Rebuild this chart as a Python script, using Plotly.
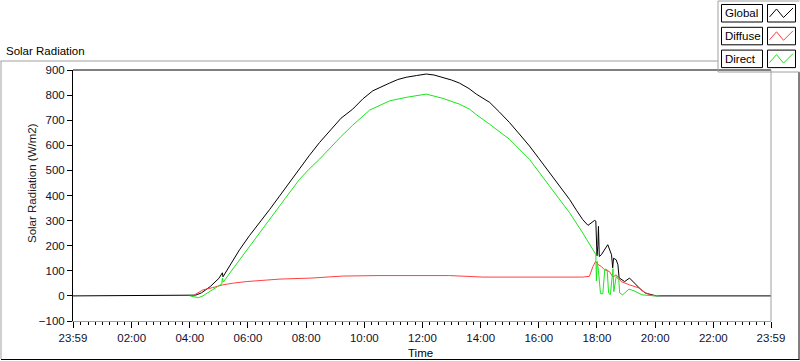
import plotly.graph_objects as go

# ---------------- data (hours since 00:00; 23:59 start = -1/60) ----------------
global_t = [-0.0167, 4.0, 4.2, 4.4, 4.7, 5.0, 5.12, 5.14, 5.4, 5.71, 6.05, 6.40, 6.75, 7.08,
            7.42, 7.77, 8.10, 8.46, 8.80, 9.20, 9.60, 9.95, 10.29, 10.60, 10.87, 11.15, 11.44,
            11.80, 12.13, 12.40, 12.70, 13.00, 13.27, 13.60, 13.85, 14.31, 14.65, 14.99, 15.33,
            15.68, 16.00, 16.37, 16.70, 17.06, 17.30, 17.51, 17.69, 17.80, 17.92, 17.96, 17.98,
            18.00, 18.03, 18.05, 18.08, 18.15, 18.37, 18.50, 18.54, 18.57, 18.66, 18.72, 18.76,
            18.95, 19.12, 19.29, 19.52, 19.67, 20.04, 23.9833]
global_v = [0, 0, 3, 12, 37, 70, 92, 76, 125, 184, 240, 291, 345, 397,
            452, 504, 558, 611, 657, 708, 744, 785, 817, 835, 848, 862, 871,
            878, 884, 880, 871, 860, 848, 826, 804, 771, 732, 691, 645,
            597, 548, 491, 440, 384, 340, 304, 281, 292, 301, 298, 210,
            160, 200, 277, 157, 164, 204, 164, 112, 150, 144, 124, 72,
            57, 71, 51, 24, 11, 0, 0]

diffuse_t = [4.10, 4.30, 4.45, 4.79, 5.13, 5.50, 5.94, 6.63, 7.10, 8.17, 8.69, 9.26, 10.47,
             12.93, 14.08, 17.51, 17.74, 17.86, 17.95, 18.05, 18.15, 18.26, 18.43, 18.55,
             18.66, 18.83, 19.12, 19.46, 19.63, 19.81, 20.00]
diffuse_v = [0, 12, 24, 33, 44, 51, 57, 63, 67, 71, 75, 79, 81,
             81, 75, 75, 78, 117, 137, 124, 117, 104, 97, 75,
             84, 57, 44, 31, 15, 4, 0]

direct_t = [4.00, 4.15, 4.30, 4.45, 4.79, 5.10, 5.12, 5.15, 5.40, 5.71, 6.05, 6.40, 6.75, 7.08,
            7.42, 7.77, 8.10, 8.46, 8.80, 9.20, 9.60, 10.18, 10.87, 11.44, 12.13, 12.70, 13.27,
            13.62, 13.85, 14.31, 14.99, 15.68, 16.37, 17.06, 17.51, 17.75, 17.92, 17.96, 17.98,
            18.01, 18.05, 18.12, 18.20, 18.27, 18.35, 18.40, 18.46, 18.55, 18.58, 18.66, 18.75,
            18.78, 18.88, 19.10, 19.28, 19.55, 20.00, 20.15]
direct_v = [0, -3, -7, 0, 24, 48, 71, 55, 95, 144, 198, 251, 305, 357,
            410, 464, 505, 545, 587, 635, 680, 740, 777, 791, 804, 787, 764,
            744, 722, 684, 624, 544, 437, 331, 251, 205, 177, 165, 60,
            137, 100, 10, 8, 107, 104, 11, 5, 108, 17, 77, 64,
            12, 4, 27, 20, 4, 0, 0]

tick_vals = [-0.0167, 2, 4, 6, 8, 10, 12, 14, 16, 18, 20, 22, 23.9833]
tick_text = ["23:59", "02:00", "04:00", "06:00", "08:00", "10:00", "12:00",
             "14:00", "16:00", "18:00", "20:00", "22:00", "23:59"]

series_names = ["Global", "Diffuse", "Direct"]
series_colors = ["#000000", "#FF4040", "#19E619"]

# ---------------- layout geometry (pixels) ----------------
W, H = 800, 361
L, R, T, B = 73, 771, 70, 321
FONT = "Liberation Sans"


def px(x):
    return (x - L) / (R - L)


def py(y):
    return (B - y) / (B - T)


fig = go.Figure()
fig.add_trace(go.Scatter(x=global_t, y=global_v, mode="lines", name=series_names[0],
                         line=dict(color=series_colors[0], width=1)))
fig.add_trace(go.Scatter(x=diffuse_t, y=diffuse_v, mode="lines", name=series_names[1],
                         line=dict(color=series_colors[1], width=1)))
fig.add_trace(go.Scatter(x=direct_t, y=direct_v, mode="lines", name=series_names[2],
                         line=dict(color=series_colors[2], width=1)))

shapes = []
annotations = []

# plot-area frame: top black, right grey
shapes.append(dict(type="line", xref="paper", yref="paper", x0=0, x1=1, y0=1, y1=1,
                   line=dict(color="black", width=1)))
shapes.append(dict(type="line", xref="paper", yref="paper", x0=1, x1=1, y0=0, y1=1,
                   line=dict(color="#A0A0A0", width=1)))
# outer panel frame
shapes.append(dict(type="line", xref="paper", yref="paper", x0=px(0.5), x1=px(718), y0=py(61), y1=py(61),
                   line=dict(color="#A0A0A0", width=1)))
shapes.append(dict(type="line", xref="paper", yref="paper", x0=px(1), x1=px(1), y0=py(61), y1=py(359),
                   line=dict(color="#A0A0A0", width=1)))
shapes.append(dict(type="line", xref="paper", yref="paper", x0=px(1), x1=px(799.5), y0=py(359.5), y1=py(359.5),
                   line=dict(color="black", width=1)))
shapes.append(dict(type="line", xref="paper", yref="paper", x0=px(799), x1=px(799), y0=py(72), y1=py(359.5),
                   line=dict(color="black", width=1)))
# legend panel
shapes.append(dict(type="line", xref="paper", yref="paper", x0=px(718), x1=px(718), y0=py(1), y1=py(72),
                   line=dict(color="#A0A0A0", width=1)))
shapes.append(dict(type="line", xref="paper", yref="paper", x0=px(718), x1=px(799.5), y0=py(72), y1=py(72),
                   line=dict(color="#A0A0A0", width=1)))
shapes.append(dict(type="line", xref="paper", yref="paper", x0=px(718), x1=px(799.5), y0=py(1), y1=py(1),
                   line=dict(color="#A0A0A0", width=1)))

for i, (name, col) in enumerate(zip(series_names, series_colors)):
    top = 4.5 + i * 22.8
    bot = top + 17.5
    shapes.append(dict(type="rect", xref="paper", yref="paper",
                       x0=px(721.5), x1=px(762.5), y0=py(bot), y1=py(top),
                       line=dict(color="black", width=1), fillcolor="white"))
    shapes.append(dict(type="rect", xref="paper", yref="paper",
                       x0=px(767.5), x1=px(795.5), y0=py(bot), y1=py(top),
                       line=dict(color="black", width=1), fillcolor="white"))
    zz = [(769.5, top + 12.5), (776.5, top + 4.5), (783.5, top + 13), (793, top + 3.5)]
    path = "M " + " L ".join(f"{px(a):.5f},{py(b):.5f}" for a, b in zz)
    shapes.append(dict(type="path", xref="paper", yref="paper", path=path,
                       line=dict(color=col, width=1)))
    annotations.append(dict(text=name, xref="paper", yref="paper", x=px(723), y=py(top + 8.8),
                            xanchor="left", yanchor="middle", showarrow=False,
                            font=dict(family=FONT, size=11.5, color="black")))

annotations.append(dict(text="Solar Radiation", xref="paper", yref="paper", x=px(4), y=py(51),
                        xanchor="left", yanchor="middle", showarrow=False,
                        font=dict(family=FONT, size=11.5, color="black")))
annotations.append(dict(text="Solar Radiation (W/m2)", xref="paper", yref="paper", x=px(32), y=py(183),
                        xanchor="center", yanchor="middle", textangle=-90, showarrow=False,
                        font=dict(family=FONT, size=11.5, color="#202020")))
annotations.append(dict(text="Time", xref="paper", yref="paper", x=px(420), y=py(353),
                        xanchor="center", yanchor="middle", showarrow=False,
                        font=dict(family=FONT, size=11.5, color="black")))

fig.update_layout(
    width=W, height=H,
    margin=dict(l=L, r=W - R, t=T, b=H - B, pad=0),
    paper_bgcolor="white", plot_bgcolor="white",
    showlegend=False,
    font=dict(family=FONT, size=11.5, color="black"),
    shapes=shapes, annotations=annotations,
    xaxis=dict(range=[-0.0167, 23.9833], tickmode="array", tickvals=tick_vals, ticktext=tick_text,
               showgrid=False, zeroline=False, showline=True, linecolor="#A0A0A0", linewidth=1,
               ticks="outside", ticklen=6, tickwidth=1, tickcolor="black",
               minor=dict(tickmode="linear", tick0=0, dtick=0.25, ticks="outside", ticklen=3,
                          tickcolor="black", showgrid=False),
               tickfont=dict(family=FONT, size=11.5, color="#101030")),
    yaxis=dict(range=[-100, 900], tickmode="linear", tick0=0, dtick=100,
               showgrid=False, zeroline=False, showline=True, linecolor="black", linewidth=1,
               ticks="outside", ticklen=5, tickwidth=1, tickcolor="black",
               tickfont=dict(family=FONT, size=11.5, color="#101030")),
)

fig.write_html("out.html", config={"displayModeBar": False},
               post_script="document.body.style.margin='0';document.body.style.overflow='hidden';")
